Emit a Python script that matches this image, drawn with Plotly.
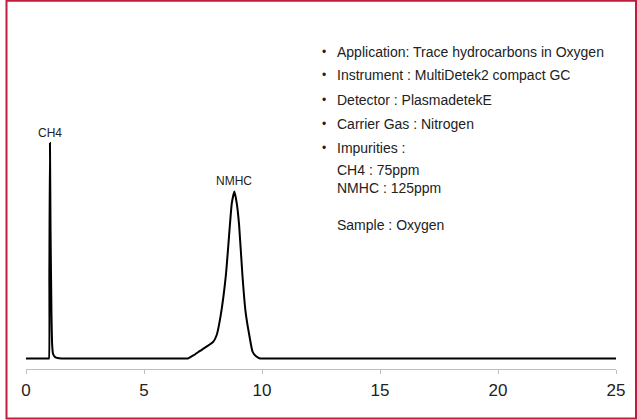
import plotly.graph_objects as go

# chromatogram trace: retention time (min) vs signal
time_min = [0, 0.5, 0.95, 0.97, 0.99, 1.015, 1.04, 1.08, 1.11, 1.15, 1.25, 1.5,
            1.8, 4, 6.6, 6.86, 7.1, 7.37, 7.65, 7.94, 8.08, 8.25, 8.47, 8.64,
            8.72, 8.83, 8.93, 9.03, 9.17, 9.3, 9.46, 9.6, 9.75, 9.92, 10.15,
            10.5, 15, 20, 24.5, 25]
signal = [0, 0, 0, 0, 40, 100, 60, 20, 6, 2, 0.5, 0,
          0, 0, 0, 0, 1.5, 3.5, 5.5, 7.8, 10.9, 20, 38.7, 61.9,
          72, 77.5, 72, 61.9, 38.7, 22, 10.9, 3.2, 1.0, 0, 0,
          0, 0, 0, 0, 0]

peak_names = ["CH4", "NMHC"]
peak_times = [1.02, 8.83]
peak_heights = [100, 77.5]

info_lines = [
    "Application: Trace hydrocarbons in Oxygen",
    "Instrument : MultiDetek2 compact GC",
    "Detector : PlasmadetekE",
    "Carrier Gas : Nitrogen",
    "Impurities :",
    "CH4 : 75ppm",
    "NMHC : 125ppm",
    "Sample : Oxygen",
]
info_bullet = [True, True, True, True, True, False, False, False]
info_ypix = [51.7, 75, 100, 124.3, 148.3, 170, 188.3, 225]

FONT = "Liberation Sans, Arial, sans-serif"
W, H = 637, 420
L, R, T, B = 26, 21, 20, 51
pw, ph = W - L - R, H - T - B

fig = go.Figure()
fig.add_trace(go.Scatter(
    x=time_min, y=signal, mode="lines",
    line=dict(color="black", width=2, shape="spline", smoothing=0.5),
    hoverinfo="skip", showlegend=False,
))

# peak labels
for name, t, h in zip(peak_names, peak_times, peak_heights):
    fig.add_annotation(x=t, y=h, text=name, showarrow=False,
                       yanchor="bottom", yshift=1,
                       font=dict(family=FONT, size=12, color="#222"))

# info block on the right
def py(pix):
    return (H - B - pix) / ph

for txt, bul, yp in zip(info_lines, info_bullet, info_ypix):
    fig.add_annotation(xref="paper", yref="paper", x=(335 - L) / pw, y=py(yp),
                       text=txt, showarrow=False, xanchor="left", yanchor="middle",
                       font=dict(family=FONT, size=14, color="#222"))
    if bul:
        fig.add_annotation(xref="paper", yref="paper", x=(324 - L) / pw, y=py(yp),
                           text="•", showarrow=False, xanchor="center", yanchor="middle",
                           font=dict(family=FONT, size=12, color="#222"))

# frame around the whole chart
fig.add_shape(type="rect", xref="paper", yref="paper",
              x0=(6.5 - L) / pw, x1=(636 - L) / pw, y0=py(418.5), y1=py(0.8),
              line=dict(color="#be1e3c", width=2), layer="above")

fig.update_layout(
    width=W, height=H,
    margin=dict(l=L, r=R, t=T, b=B),
    paper_bgcolor="white", plot_bgcolor="white",
    xaxis=dict(range=[0, 25], tickvals=[0, 5, 10, 15, 20, 25],
               showgrid=False, zeroline=False,
               showline=True, linecolor="#bfbfbf", linewidth=1,
               ticks="outside", ticklen=4, tickcolor="#bfbfbf",
               ticklabelstandoff=2,
               tickfont=dict(family=FONT, size=17, color="#222")),
    yaxis=dict(range=[-4.87, 157.0], visible=False),
)

fig.write_html("out.html", config={"displayModeBar": False},
               post_script="document.body.style.margin='0';")
